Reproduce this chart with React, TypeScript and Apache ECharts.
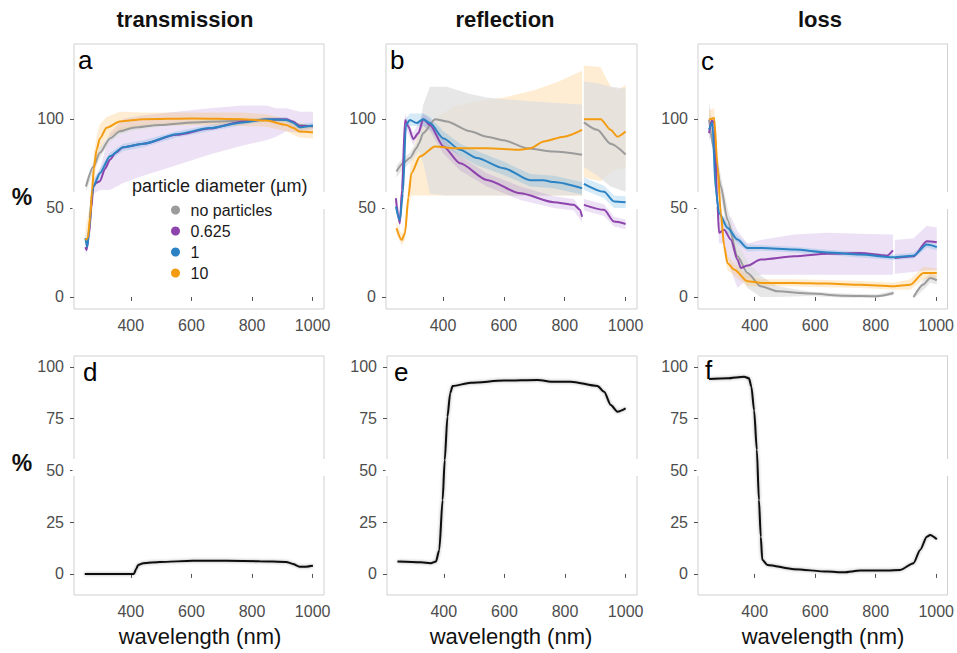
import React, { useEffect, useRef } from "react";
import * as echarts from "echarts";

type P = [number, number | null];
type R = [number, number | null, number | null];

const FONT = "'Liberation Sans', Arial, Helvetica, sans-serif";

const WAVE_TICKS = [400, 600, 800, 1000];
const TOP_TICKS = [0, 50, 100];
const BOTTOM_TICKS = [0, 25, 50, 75, 100];
const PANEL_TITLES = ["transmission", "reflection", "loss"];
const PANEL_LETTERS = ["a", "b", "c", "d", "e", "f"];
const LEGEND_TITLE = "particle diameter (µm)";
const LEGEND_NAMES = ["no particles", "0.625", "1", "10"];
const X_TITLE = "wavelength (nm)";
const Y_TITLE = "%";

// ---------- panel a : transmission ----------
const aGray: P[] = [[252, 62], [276, 73], [298, 81], [331, 89], [364, 93], [408, 95], [496, 96.6], [605, 98], [715, 98.7], [825, 99.4], [913, 99.4], [957, 96.6], [1001, 95.7]];
const aPurple: P[] = [[250, 28], [254, 26.4], [262, 35], [270, 50], [276, 62], [285, 64], [298, 65], [315, 72], [331, 77], [350, 81], [375, 84], [441, 86], [551, 91], [660, 94.5], [770, 98.5], [847, 99.6], [913, 99.8], [935, 98.5], [957, 96], [1001, 96]];
const aBlue: P[] = [[250, 33], [256, 28], [264, 40], [270, 55], [276, 62], [298, 69.5], [331, 79], [375, 84], [441, 86], [551, 91.4], [660, 94.8], [770, 98], [847, 99.8], [913, 99.4], [935, 98], [957, 95.3], [1001, 96.3]];
const aOrange: P[] = [[250, 32], [258, 33], [266, 45], [272, 60], [278, 72], [287, 82.6], [298, 89], [320, 95], [364, 98.5], [441, 99.8], [605, 100.2], [770, 99.8], [847, 99], [913, 96.6], [935, 95], [957, 92.9], [1001, 92.3]];

const aGrayBand: R[] = [[252, 59, 65], [276, 70, 76], [298, 78, 84], [331, 87, 91], [364, 91, 95], [408, 93.5, 96.5], [496, 95.5, 97.7], [605, 97, 99], [715, 97.7, 99.7], [825, 98.4, 100.4], [913, 98.4, 100.4], [957, 95.6, 97.6], [1001, 94.7, 96.7]];
const aPurpleBand: R[] = [[250, 25, 31], [254, 24, 29], [276, 58, 66], [298, 60, 72], [331, 60, 92], [375, 64, 100], [441, 68, 102], [551, 74, 104], [660, 80, 106], [770, 85, 107.5], [847, 88, 107.5], [880, 90, 106], [913, 93, 106], [957, 92, 104], [1001, 92, 104]];
const aBlueBand: R[] = [[250, 30, 36], [256, 25, 31], [276, 59, 65], [298, 67, 72], [331, 77, 81], [375, 82, 86], [441, 84, 88], [551, 89.5, 93], [660, 93, 96.5], [770, 96.5, 99.5], [847, 98.5, 101], [913, 98, 101], [957, 93.5, 97], [1001, 94.5, 98]];
const aOrangeBand: R[] = [[250, 28, 38], [266, 40, 52], [278, 62, 80], [287, 75, 90], [298, 83, 97], [320, 89, 101], [364, 93, 104], [441, 96, 103.5], [605, 96.5, 103.5], [770, 96, 103.5], [847, 95.5, 102.5], [913, 93, 100], [957, 89.5, 96.5], [1001, 89, 95.5]];

// ---------- panel b : reflection ----------
const bGray: P[] = [[247, 70.4], [269, 75], [291, 78], [313, 83.5], [320, 86], [335, 92], [374, 99.8], [412, 98.5], [489, 93], [544, 90], [599, 88], [676, 83.5], [764, 81.6], [857, 79.8], [860, null], [863, 98], [907, 93.8], [951, 86], [1000, 80]];
const bPurple: P[] = [[245, 55.4], [252, 46], [258, 41.4], [265, 60], [275, 99.4], [286, 95.7], [302, 88.6], [319, 92], [335, 99.8], [357, 96.6], [401, 84.5], [456, 75], [544, 65.7], [654, 58.2], [764, 53.2], [830, 51.7], [850, 49], [857, 45], [860, null], [863, 51.7], [929, 48.9], [962, 42.3], [1000, 41]];
const bBlue: P[] = [[245, 50.7], [258, 43], [268, 58], [278, 96.6], [291, 99.4], [313, 97.6], [335, 99.8], [357, 97.6], [401, 89], [456, 82.6], [511, 78], [599, 72.3], [687, 65.5], [730, 65.5], [764, 64.5], [857, 61], [860, null], [863, 63.5], [929, 59], [962, 53.6], [1000, 53.2]];
const bOrange: P[] = [[247, 38.6], [264, 32], [275, 35.8], [286, 56], [296, 69.5], [324, 78.8], [374, 84.5], [434, 83.5], [544, 83.5], [654, 82.6], [687, 83.5], [731, 87.3], [797, 90], [857, 93.8], [860, null], [863, 99.8], [918, 99.8], [951, 93.8], [973, 90], [1000, 92.9]];

const bGrayBand: R[] = [[247, 67, 74], [269, 72, 78], [291, 75, 81], [313, 80, 87], [320, 82, 92], [335, 75, 108], [357, 58, 118], [412, 57, 118], [489, 57, 114], [544, 57, 112], [599, 57, 111], [676, 57, 110], [764, 57, 109], [857, 57, 108], [860, null, null], [863, 73, 121], [907, 68, 120], [951, 62, 118], [1000, 59, 117]];
const bPurpleBand: R[] = [[245, 52, 59], [258, 38, 45], [275, 96, 103], [302, 85, 92], [335, 96, 103], [357, 93, 100], [401, 80.5, 88.5], [456, 71, 79], [544, 62, 69.5], [654, 54.5, 62], [764, 50, 56.5], [830, 48.5, 55], [857, 42, 48], [860, null, null], [863, 48.5, 55], [929, 45.5, 52], [962, 39.5, 45], [1000, 38, 43.5]];
const bBlueBand: R[] = [[245, 47, 54], [258, 40, 46], [278, 93, 100], [291, 96, 103], [335, 96, 103], [357, 94, 101], [401, 85, 93], [456, 79, 86], [511, 74, 82], [599, 68.5, 76], [687, 62, 69], [764, 61, 68], [857, 57.5, 64.5], [860, null, null], [863, 60, 67], [929, 55.5, 62.5], [962, 50, 57], [1000, 50, 56.5]];
const bOrangeBand: R[] = [[247, 35, 42], [264, 29, 35], [275, 32, 40], [286, 50, 62], [296, 57, 80], [324, 57, 95], [374, 57, 100], [434, 57, 107], [520, 57, 110], [600, 57, 112], [700, 57, 116], [780, 57, 121], [857, 57, 127], [860, null, null], [863, 67, 130], [918, 65, 129], [951, 70, 118], [973, 72, 116], [1000, 72, 119]];

// ---------- panel c : loss ----------
const cGray: P[] = [[249, 99.6], [266, 82.8], [288, 62], [310, 43.4], [343, 22.8], [376, 13.5], [420, 6], [475, 3.2], [585, 1.9], [695, 0.7], [804, 0.4], [859, 2.2], [880, null], [925, 0], [958, 7], [980, 10.7], [1002, 9.4]];
const cPurple: P[] = [[249, 92], [258, 99], [266, 97.8], [277, 51], [282, 36], [299, 37.8], [321, 32.2], [343, 21], [354, 16.3], [376, 17.6], [420, 21], [530, 22.8], [640, 24.2], [749, 24.7], [837, 23.2], [857, 26.2], [860, null], [863, 21.9], [925, 22.8], [969, 31.3], [1002, 30.7]];
const cBlue: P[] = [[249, 94], [260, 97.8], [271, 60.3], [282, 47.2], [310, 38.8], [343, 32.2], [376, 27.5], [420, 27.5], [530, 26.6], [640, 25], [749, 23.8], [859, 22.3], [925, 23.2], [969, 29.4], [1002, 28]];
const cOrange: P[] = [[249, 99.6], [266, 100.5], [277, 73.4], [288, 47], [299, 28.5], [310, 19], [332, 15.4], [376, 8.8], [420, 7.9], [530, 7.9], [640, 7.5], [749, 6.9], [859, 6], [914, 6.9], [958, 13.5], [1002, 13.5]];

const cGrayBand: R[] = [[249, 94, 110], [266, 77, 90], [288, 56, 68], [310, 37, 50], [343, 15, 30], [376, 5, 20], [420, 0, 12], [475, 0, 6], [585, 0.5, 3], [695, -0.5, 2], [804, -0.5, 1.5], [859, 1, 3.5], [880, null, null], [925, -1, 1], [958, 4, 10], [980, 8, 13], [1002, 7, 12]];
const cPurpleBand: R[] = [[249, 88, 96], [266, 94, 101], [277, 45, 57], [282, 30, 42], [299, 30, 45], [321, 15, 45], [343, 5, 37], [376, 10, 30], [420, 12.5, 32], [530, 12.5, 35], [640, 12.5, 36], [749, 12.5, 35.5], [857, 12.5, 35], [860, null, null], [863, 13, 32], [925, 14, 33], [969, 15, 40], [1002, 15, 39]];
const cBlueBand: R[] = [[249, 91, 97], [260, 95, 100.5], [271, 57, 63], [282, 44, 50], [310, 36.5, 41], [343, 30, 34.5], [376, 25.5, 29.5], [420, 26, 29], [530, 25, 28.2], [640, 23.5, 26.5], [749, 22.2, 25.4], [859, 20.7, 23.9], [925, 21.6, 24.8], [969, 27.6, 31.2], [1002, 26.2, 29.8]];
const cOrangeBand: R[] = [[249, 95, 105], [266, 95, 106], [277, 66, 80], [288, 41, 53], [299, 24, 33], [310, 15, 23], [332, 12, 19], [376, 6, 12], [420, 6, 10], [530, 6, 10], [640, 5.5, 9.5], [749, 5, 9], [859, 4, 8], [914, 4, 10], [958, 10, 17], [1002, 11, 16]];

// ---------- panels d, e, f ----------
const dLine: P[] = [[248, 0], [300, 0], [410, 0], [418, 2.5], [424, 4.3], [441, 5.2], [496, 5.8], [605, 6.3], [715, 6.3], [825, 6.1], [913, 5.8], [935, 4.8], [957, 3.5], [979, 3.5], [1001, 3.9]];
const eLine: P[] = [[247, 6], [324, 5.6], [357, 5.2], [374, 6], [385, 11.6], [396, 35.7], [403, 55], [412, 76], [421, 87.3], [429, 90.8], [489, 92.4], [599, 93.4], [709, 93.7], [764, 92.8], [819, 92.9], [907, 90.8], [929, 88], [951, 81.6], [973, 78.4], [1000, 80]];
const fLine: P[] = [[249, 94.2], [310, 94.5], [365, 95.3], [381, 94.5], [389, 90.5], [398, 79], [407, 60], [414, 35.7], [420, 18], [425, 6.8], [442, 4.3], [530, 2.3], [640, 1.1], [695, 0.8], [749, 1.6], [837, 1.6], [881, 1.9], [925, 5.2], [947, 11.6], [969, 18], [980, 18.8], [1002, 16.7]];

const COLORS = {
  gray: "#9b9b9b",
  purple: "#8e44ad",
  blue: "#2b83c4",
  orange: "#f39c12",
};
const BANDS = {
  gray: "rgba(222,222,222,0.72)",
  purple: "rgba(165,110,205,0.2)",
  blue: "rgba(70,160,220,0.22)",
  orange: "rgba(250,185,80,0.25)",
};

const GRIDS = [
  { left: 74, top: 44, width: 250, height: 265 },
  { left: 386, top: 44, width: 251, height: 265 },
  { left: 698, top: 44, width: 250, height: 265 },
  { left: 74, top: 356, width: 250, height: 239 },
  { left: 387, top: 356, width: 250, height: 239 },
  { left: 698, top: 356, width: 250, height: 239 },
];

function lineSeries(name: string, data: P[], color: string, gi: number, width = 2, shadow = false) {
  return {
    type: "line",
    name,
    xAxisIndex: gi,
    yAxisIndex: gi,
    data: data.map(([x, y]) => [x, y === null ? "-" : y]),
    showSymbol: false,
    symbol: "none",
    connectNulls: false,
    smooth: 0.25,
    smoothMonotone: "x",
    silent: true,
    z: 3,
    itemStyle: { color },
    lineStyle: shadow
      ? { color, width, shadowBlur: 3, shadowColor: "rgba(0,0,0,0.35)" }
      : { color, width },
  };
}

function ribbonSeries(data: R[], fill: string, gi: number) {
  return {
    type: "custom",
    coordinateSystem: "cartesian2d",
    xAxisIndex: gi,
    yAxisIndex: gi,
    silent: true,
    z: 1,
    data: data.filter((d) => d[1] !== null).map((d) => [d[0], d[1], d[2]]),
    encode: { x: 0, y: [1, 2] },
    renderItem: (params: any, api: any) => {
      if (params.dataIndex !== 0) return null;
      const segs: R[][] = [];
      let cur: R[] = [];
      for (const d of data) {
        if (d[1] === null) {
          if (cur.length) segs.push(cur);
          cur = [];
        } else cur.push(d);
      }
      if (cur.length) segs.push(cur);
      const children = segs
        .filter((s) => s.length > 1)
        .map((s) => {
          const up = s.map((d) => api.coord([d[0], d[2]]));
          const lo = s.map((d) => api.coord([d[0], d[1]])).reverse();
          return { type: "polygon", shape: { points: [...up, ...lo], smooth: 0 }, style: { fill, stroke: null } };
        });
      return { type: "group", children };
    },
  };
}

export default function App() {
  const ref = useRef<HTMLDivElement>(null);
  useEffect(() => {
    if (!ref.current) return;
    const chart = echarts.init(ref.current, undefined, { renderer: "svg" });

    const grid = GRIDS.map((g) => ({
      ...g,
      show: true,
      borderColor: "#d0d0d0",
      borderWidth: 1,
      backgroundColor: "transparent",
    }));

    const xAxis = GRIDS.map((_, i) => ({
      type: "value",
      gridIndex: i,
      min: 212.5,
      max: 1037.5,
      axisLine: { show: false },
      splitLine: { show: false },
      axisTick: { show: true, length: 4, customValues: WAVE_TICKS, lineStyle: { color: "#555", width: 1 } },
      axisLabel: {
        show: true,
        customValues: WAVE_TICKS,
        formatter: (v: number) => String(v),
        color: "#4d4d4d",
        fontSize: 16,
        margin: 8,
        fontFamily: FONT,
      },
    }));

    const yAxis = GRIDS.map((_, i) => {
      const top = i < 3;
      const ticks = top ? TOP_TICKS : BOTTOM_TICKS;
      return {
        type: "value",
        gridIndex: i,
        min: top ? -6.75 : -10.2,
        max: top ? 142 : 105.3,
        axisLine: { show: false },
        splitLine: { show: false },
        axisTick: { show: true, length: 4, customValues: ticks, lineStyle: { color: "#555", width: 1 } },
        axisLabel: {
          show: true,
          customValues: ticks,
          formatter: (v: number) => String(v),
          color: "#4d4d4d",
          fontSize: 16,
          margin: 10,
          fontFamily: FONT,
        },
      };
    });

    const series: any[] = [
      ribbonSeries(aPurpleBand, BANDS.purple, 0),
      ribbonSeries(aGrayBand, BANDS.gray, 0),
      ribbonSeries(aBlueBand, BANDS.blue, 0),
      ribbonSeries(aOrangeBand, BANDS.orange, 0),
      ribbonSeries(bOrangeBand, BANDS.orange, 1),
      ribbonSeries(bGrayBand, BANDS.gray, 1),
      ribbonSeries(bPurpleBand, BANDS.purple, 1),
      ribbonSeries(bBlueBand, BANDS.blue, 1),
      ribbonSeries(cPurpleBand, BANDS.purple, 2),
      ribbonSeries(cGrayBand, BANDS.gray, 2),
      ribbonSeries(cOrangeBand, BANDS.orange, 2),
      ribbonSeries(cBlueBand, BANDS.blue, 2),
      lineSeries(LEGEND_NAMES[0], aGray, COLORS.gray, 0),
      lineSeries(LEGEND_NAMES[1], aPurple, COLORS.purple, 0),
      lineSeries(LEGEND_NAMES[2], aBlue, COLORS.blue, 0),
      lineSeries(LEGEND_NAMES[3], aOrange, COLORS.orange, 0),
      lineSeries(LEGEND_NAMES[0], bGray, COLORS.gray, 1),
      lineSeries(LEGEND_NAMES[1], bPurple, COLORS.purple, 1),
      lineSeries(LEGEND_NAMES[2], bBlue, COLORS.blue, 1),
      lineSeries(LEGEND_NAMES[3], bOrange, COLORS.orange, 1),
      lineSeries(LEGEND_NAMES[0], cGray, COLORS.gray, 2),
      lineSeries(LEGEND_NAMES[1], cPurple, COLORS.purple, 2),
      lineSeries(LEGEND_NAMES[2], cBlue, COLORS.blue, 2),
      lineSeries(LEGEND_NAMES[3], cOrange, COLORS.orange, 2),
      lineSeries("mean d", dLine, "#111111", 3, 2, true),
      lineSeries("mean e", eLine, "#111111", 4, 2, true),
      lineSeries("mean f", fLine, "#111111", 5, 2, true),
    ];

    const letterPos = [[78, 60], [390, 60], [701, 61], [83, 372], [394, 372], [705, 370]];
    const titleX = [185, 505, 820];
    const xTitleX = [200, 511, 823];

    const graphic: any[] = [];
    PANEL_TITLES.forEach((t, i) =>
      graphic.push({
        type: "text",
        x: titleX[i],
        y: 19,
        style: { text: t, fontSize: 22, fontWeight: "bold", fontFamily: FONT, fill: "#111", align: "center", verticalAlign: "middle" },
      })
    );
    PANEL_LETTERS.forEach((t, i) =>
      graphic.push({
        type: "text",
        x: letterPos[i][0],
        y: letterPos[i][1],
        style: { text: t, fontSize: 26, fontFamily: FONT, fill: "#000", align: "left", verticalAlign: "middle" },
      })
    );
    [197, 463].forEach((y) =>
      graphic.push({
        type: "text",
        x: 22,
        y,
        style: { text: Y_TITLE, fontSize: 23, fontWeight: "bold", fontFamily: FONT, fill: "#111", align: "center", verticalAlign: "middle" },
      })
    );
    xTitleX.forEach((x) =>
      graphic.push({
        type: "text",
        x,
        y: 636,
        style: { text: X_TITLE, fontSize: 22, fontFamily: FONT, fill: "#111", align: "center", verticalAlign: "middle" },
      })
    );
    graphic.push({
      type: "text",
      x: 132,
      y: 186,
      style: { text: LEGEND_TITLE, fontSize: 18, fontFamily: FONT, fill: "#1a1a1a", align: "left", verticalAlign: "middle" },
    });
    // small white breaks in the panel frames, as in the source image
    GRIDS.forEach((g, i) => {
      const y0 = i < 3 ? 192 : 459;
      [g.left, g.left + g.width].forEach((bx) =>
        graphic.push({
          type: "rect",
          z: 100,
          shape: { x: bx - 1.5, y: y0, width: 3, height: 17 },
          style: { fill: "#ffffff" },
        })
      );
    });

    chart.setOption({
      animation: false,
      grid,
      xAxis,
      yAxis,
      series,
      graphic,
      legend: {
        data: LEGEND_NAMES,
        orient: "vertical",
        left: 166,
        top: 197,
        icon: "circle",
        itemWidth: 20,
        itemHeight: 9,
        itemGap: 5,
        selectedMode: false,
        textStyle: { fontSize: 16, color: "#1a1a1a", fontFamily: FONT },
      },
    });
    return () => chart.dispose();
  }, []);

  return <div ref={ref} style={{ position: "absolute", left: 0, top: 0, width: 957, height: 653 }} />;
}
